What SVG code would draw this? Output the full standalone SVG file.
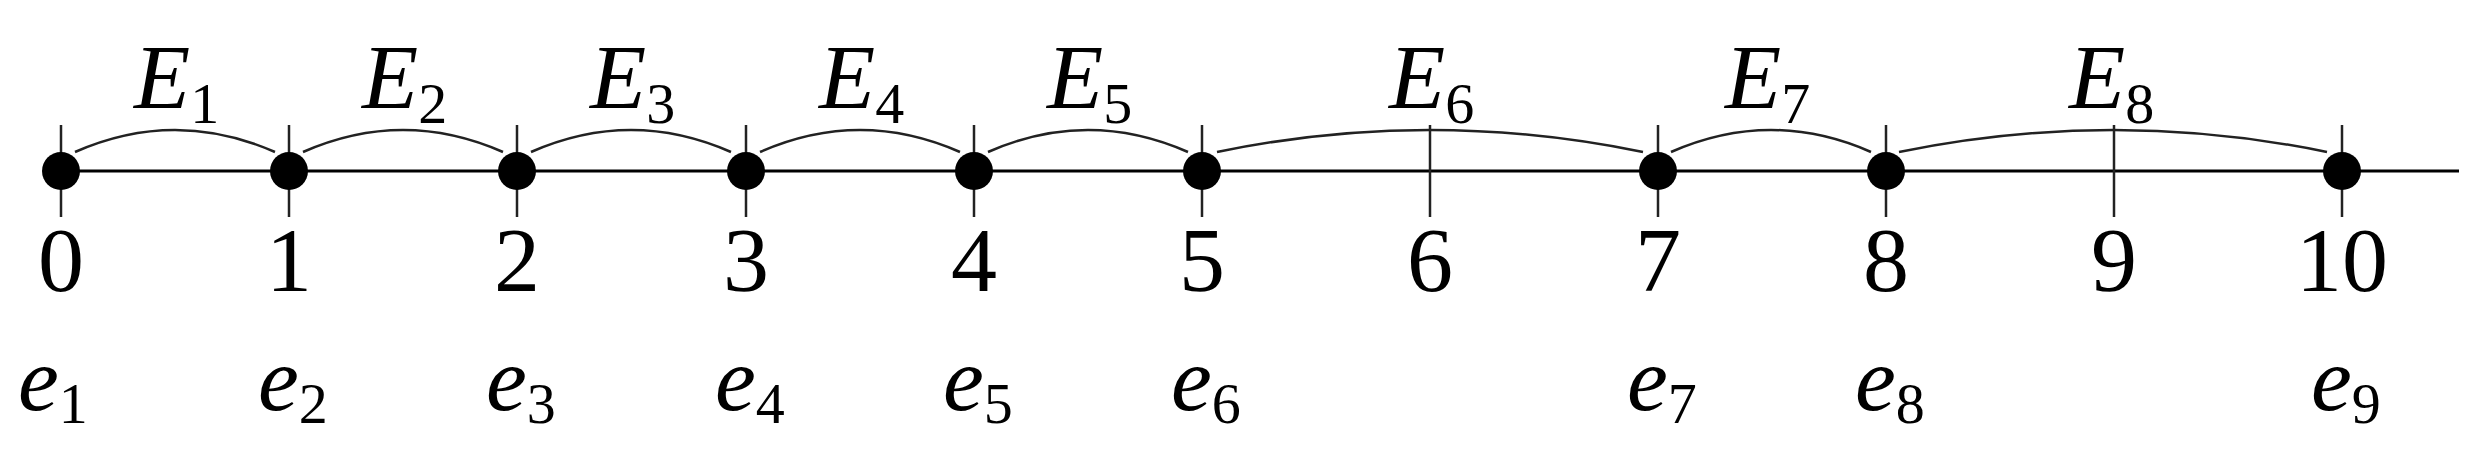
<svg xmlns="http://www.w3.org/2000/svg" width="2486" height="466" viewBox="0 0 2486 466">
<style>
.ln{stroke:#000;stroke-width:3;fill:none}
.tk{stroke:#222;stroke-width:2.5}
.arc{stroke:#222;stroke-width:2.5;fill:none}
.num{font-family:"Liberation Serif",serif;font-size:92px;text-anchor:middle}
.it{font-family:"Liberation Serif",serif;font-size:92px;font-style:italic}
.sub{font-size:58px;font-style:normal}
</style>
<rect width="2486" height="466" fill="#fff"/>
<g id="connectors">
<line class="ln" x1="61" y1="171" x2="2459" y2="171"/>
<path class="arc" d="M75,152 Q175,108 275,152"/>
<path class="arc" d="M303,152 Q403,108 503,152"/>
<path class="arc" d="M531,152 Q631,108 731,152"/>
<path class="arc" d="M760,152 Q860,108 960,152"/>
<path class="arc" d="M988,152 Q1088,108 1188,152"/>
<path class="arc" d="M1217,152 Q1429,108 1643,152"/>
<path class="arc" d="M1671,152 Q1771,108 1871,152"/>
<path class="arc" d="M1899,152 Q2114,108 2327,152"/>
</g>
<g id="ticks">
<line class="tk" x1="61" y1="125" x2="61" y2="217"/>
<line class="tk" x1="289" y1="125" x2="289" y2="217"/>
<line class="tk" x1="517" y1="125" x2="517" y2="217"/>
<line class="tk" x1="746" y1="125" x2="746" y2="217"/>
<line class="tk" x1="974" y1="125" x2="974" y2="217"/>
<line class="tk" x1="1202" y1="125" x2="1202" y2="217"/>
<line class="tk" x1="1430" y1="125" x2="1430" y2="217"/>
<line class="tk" x1="1658" y1="125" x2="1658" y2="217"/>
<line class="tk" x1="1886" y1="125" x2="1886" y2="217"/>
<line class="tk" x1="2114" y1="125" x2="2114" y2="217"/>
<line class="tk" x1="2342" y1="125" x2="2342" y2="217"/>
</g>
<g id="node0"><circle cx="61" cy="171" r="19"/><text class="num" x="61" y="291">0</text><text class="it" x="18" y="410">e<tspan class="sub" dy="13">1</tspan></text></g>
<g id="node1"><circle cx="289" cy="171" r="19"/><text class="num" x="289" y="291">1</text><text class="it" x="258" y="410">e<tspan class="sub" dy="13">2</tspan></text></g>
<g id="node2"><circle cx="517" cy="171" r="19"/><text class="num" x="517" y="291">2</text><text class="it" x="486" y="410">e<tspan class="sub" dy="13">3</tspan></text></g>
<g id="node3"><circle cx="746" cy="171" r="19"/><text class="num" x="746" y="291">3</text><text class="it" x="715" y="410">e<tspan class="sub" dy="13">4</tspan></text></g>
<g id="node4"><circle cx="974" cy="171" r="19"/><text class="num" x="974" y="291">4</text><text class="it" x="943" y="410">e<tspan class="sub" dy="13">5</tspan></text></g>
<g id="node5"><circle cx="1202" cy="171" r="19"/><text class="num" x="1202" y="291">5</text><text class="it" x="1171" y="410">e<tspan class="sub" dy="13">6</tspan></text></g>
<g id="node6"><text class="num" x="1430" y="291">6</text></g>
<g id="node7"><circle cx="1658" cy="171" r="19"/><text class="num" x="1658" y="291">7</text><text class="it" x="1627" y="410">e<tspan class="sub" dy="13">7</tspan></text></g>
<g id="node8"><circle cx="1886" cy="171" r="19"/><text class="num" x="1886" y="291">8</text><text class="it" x="1855" y="410">e<tspan class="sub" dy="13">8</tspan></text></g>
<g id="node9"><text class="num" x="2114" y="291">9</text></g>
<g id="node10"><circle cx="2342" cy="171" r="19"/><text class="num" x="2342" y="291">10</text><text class="it" x="2311" y="410">e<tspan class="sub" dy="13">9</tspan></text></g>
<g id="labels">
<text class="it" x="134" y="108">E<tspan class="sub" dy="15">1</tspan></text>
<text class="it" x="362" y="108">E<tspan class="sub" dy="15">2</tspan></text>
<text class="it" x="590" y="108">E<tspan class="sub" dy="15">3</tspan></text>
<text class="it" x="819" y="108">E<tspan class="sub" dy="15">4</tspan></text>
<text class="it" x="1047" y="108">E<tspan class="sub" dy="15">5</tspan></text>
<text class="it" x="1389" y="108">E<tspan class="sub" dy="15">6</tspan></text>
<text class="it" x="1725" y="108">E<tspan class="sub" dy="15">7</tspan></text>
<text class="it" x="2069" y="108">E<tspan class="sub" dy="15">8</tspan></text>
</g>
</svg>
